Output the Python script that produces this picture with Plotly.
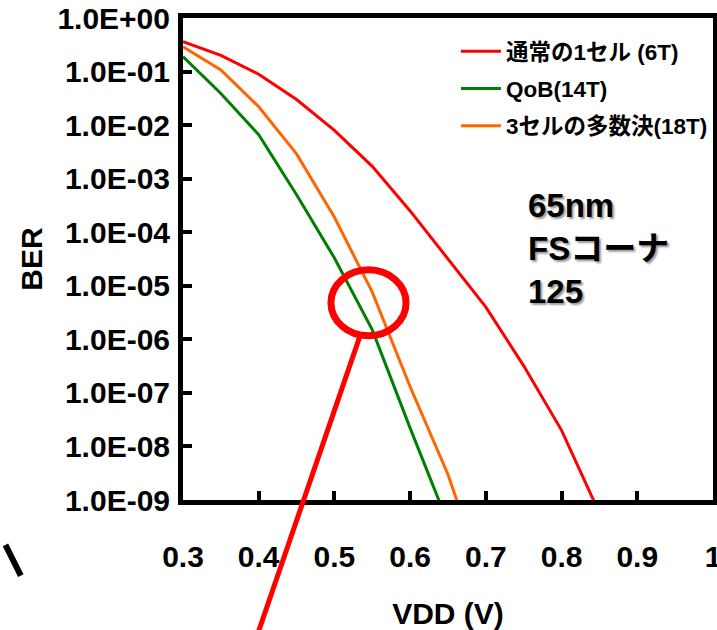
import math
import plotly.graph_objects as go

# ---------------- data ----------------
vdd = [0.30, 0.35, 0.40, 0.45, 0.50, 0.55, 0.60, 0.65, 0.70, 0.75, 0.80, 0.85]
ber_6t = [3.6e-1, 2.0e-1, 8.9e-2, 3.0e-2, 8.0e-3, 1.7e-3, 2.5e-4, 3.2e-5, 4.0e-6, 3.2e-7, 2.0e-8, 5.7e-10]

vdd_qob = [0.30, 0.35, 0.40, 0.45, 0.50, 0.55, 0.60, 0.65]
ber_qob = [1.9e-1, 3.9e-2, 6.6e-3, 5.0e-4, 3.3e-5, 1.5e-6, 2.2e-8, 3.7e-10]

vdd_maj = [0.30, 0.35, 0.40, 0.45, 0.50, 0.55, 0.60, 0.65, 0.70]
ber_maj = [2.9e-1, 1.07e-1, 2.2e-2, 2.9e-3, 1.9e-4, 7.6e-6, 1.3e-7, 3.0e-9, 2.5e-11]

series_names = ["通常の1セル (6T)", "QoB(14T)", "3セルの多数決(18T)"]
series_colors = ["#FF0000", "#008000", "#FF6600"]

x_tickvals = [0.3, 0.4, 0.5, 0.6, 0.7, 0.8, 0.9, 1.0]
x_ticktext = ["0.3", "0.4", "0.5", "0.6", "0.7", "0.8", "0.9", "1"]
y_tickvals = [1e0, 1e-1, 1e-2, 1e-3, 1e-4, 1e-5, 1e-6, 1e-7, 1e-8, 1e-9]
y_ticktext = ["1.0E+00", "1.0E-01", "1.0E-02", "1.0E-03", "1.0E-04",
              "1.0E-05", "1.0E-06", "1.0E-07", "1.0E-08", "1.0E-09"]

note_text = "65nm<br>FSコーナ<br>125"

X_RANGE = [0.3, 1.0]
Y_RANGE_LOG = [-9, 0]

# highlight ellipse (in data terms)
hl_vdd, hl_ber = 0.545, 4.8e-6
hl_rx_vdd, hl_ry_dec = 0.0496, 0.616


def xp(v):
    return (v - X_RANGE[0]) / (X_RANGE[1] - X_RANGE[0])


def yp(b):
    return (math.log10(b) - Y_RANGE_LOG[0]) / (Y_RANGE_LOG[1] - Y_RANGE_LOG[0])


FONT = "Liberation Sans, Arial, Noto Sans CJK JP, sans-serif"

fig = go.Figure()
for xs, ys, name, col in zip([vdd, vdd_qob, vdd_maj], [ber_6t, ber_qob, ber_maj],
                             series_names, series_colors):
    fig.add_trace(go.Scatter(x=xs, y=ys, mode="lines", name=name, legendgroup=name,
                             line=dict(color=col, width=3)))

cx, cy = xp(hl_vdd), yp(hl_ber)
rx = hl_rx_vdd / (X_RANGE[1] - X_RANGE[0])
ry = hl_ry_dec / (Y_RANGE_LOG[1] - Y_RANGE_LOG[0])

shapes = [
    dict(type="circle", xref="paper", yref="paper", x0=cx - rx, x1=cx + rx,
         y0=cy - ry, y1=cy + ry, line=dict(color="#FF0000", width=7), layer="above"),
    dict(type="line", xref="paper", yref="paper", x0=cx - 0.016, y0=cy - ry,
         x1=0.134, y1=-0.30, line=dict(color="#FF0000", width=5), layer="above"),
    dict(type="line", xref="paper", yref="paper", x0=-0.335, y0=-0.093,
         x1=-0.306, y1=-0.157, line=dict(color="#000000", width=6), layer="above"),
]

fig.update_layout(
    width=717, height=630,
    margin=dict(l=183, r=4, t=18, b=130),
    paper_bgcolor="white", plot_bgcolor="white",
    shapes=shapes,
    showlegend=True,
    legend=dict(x=0.515, y=0.975, xanchor="left", yanchor="top",
                font=dict(family=FONT, size=22.5, color="black", weight="bold"),
                itemwidth=40, tracegroupgap=5, bgcolor="rgba(0,0,0,0)"),
    annotations=[dict(text=note_text, xref="paper", yref="paper", x=0.648, y=0.521,
                      xanchor="left", yanchor="middle", align="left", showarrow=False,
                      font=dict(family=FONT, size=33, color="black", weight="bold",
                                shadow="2px 2px 2px #9a9a9a"))],
)

fig.update_xaxes(range=X_RANGE, tickvals=x_tickvals, ticktext=x_ticktext, automargin=False,
                 showline=True, linecolor="black", linewidth=5, mirror=True,
                 ticks="inside", ticklen=9, tickwidth=4, tickcolor="black",
                 showgrid=False, zeroline=False, ticklabelstandoff=26,
                 ticklabeloverflow="allow",
                 tickfont=dict(family=FONT, size=30, color="black", weight="bold"),
                 title=dict(text="VDD (V)", standoff=37,
                            font=dict(family=FONT, size=30, color="black", weight="bold")))
fig.update_yaxes(type="log", range=Y_RANGE_LOG, tickvals=y_tickvals, ticktext=y_ticktext,
                 automargin=False,
                 showline=True, linecolor="black", linewidth=5, mirror=True,
                 ticks="inside", ticklen=9, tickwidth=4, tickcolor="black",
                 showgrid=False, zeroline=False, ticklabelstandoff=2,
                 ticklabeloverflow="allow",
                 tickfont=dict(family=FONT, size=30, color="black", weight="bold"),
                 title=dict(text="BER", standoff=7,
                            font=dict(family=FONT, size=30, color="black", weight="bold")))

fig.write_html("out.html", config={"displayModeBar": False},
               post_script="document.body.style.margin='0';document.body.style.overflow='hidden';")
